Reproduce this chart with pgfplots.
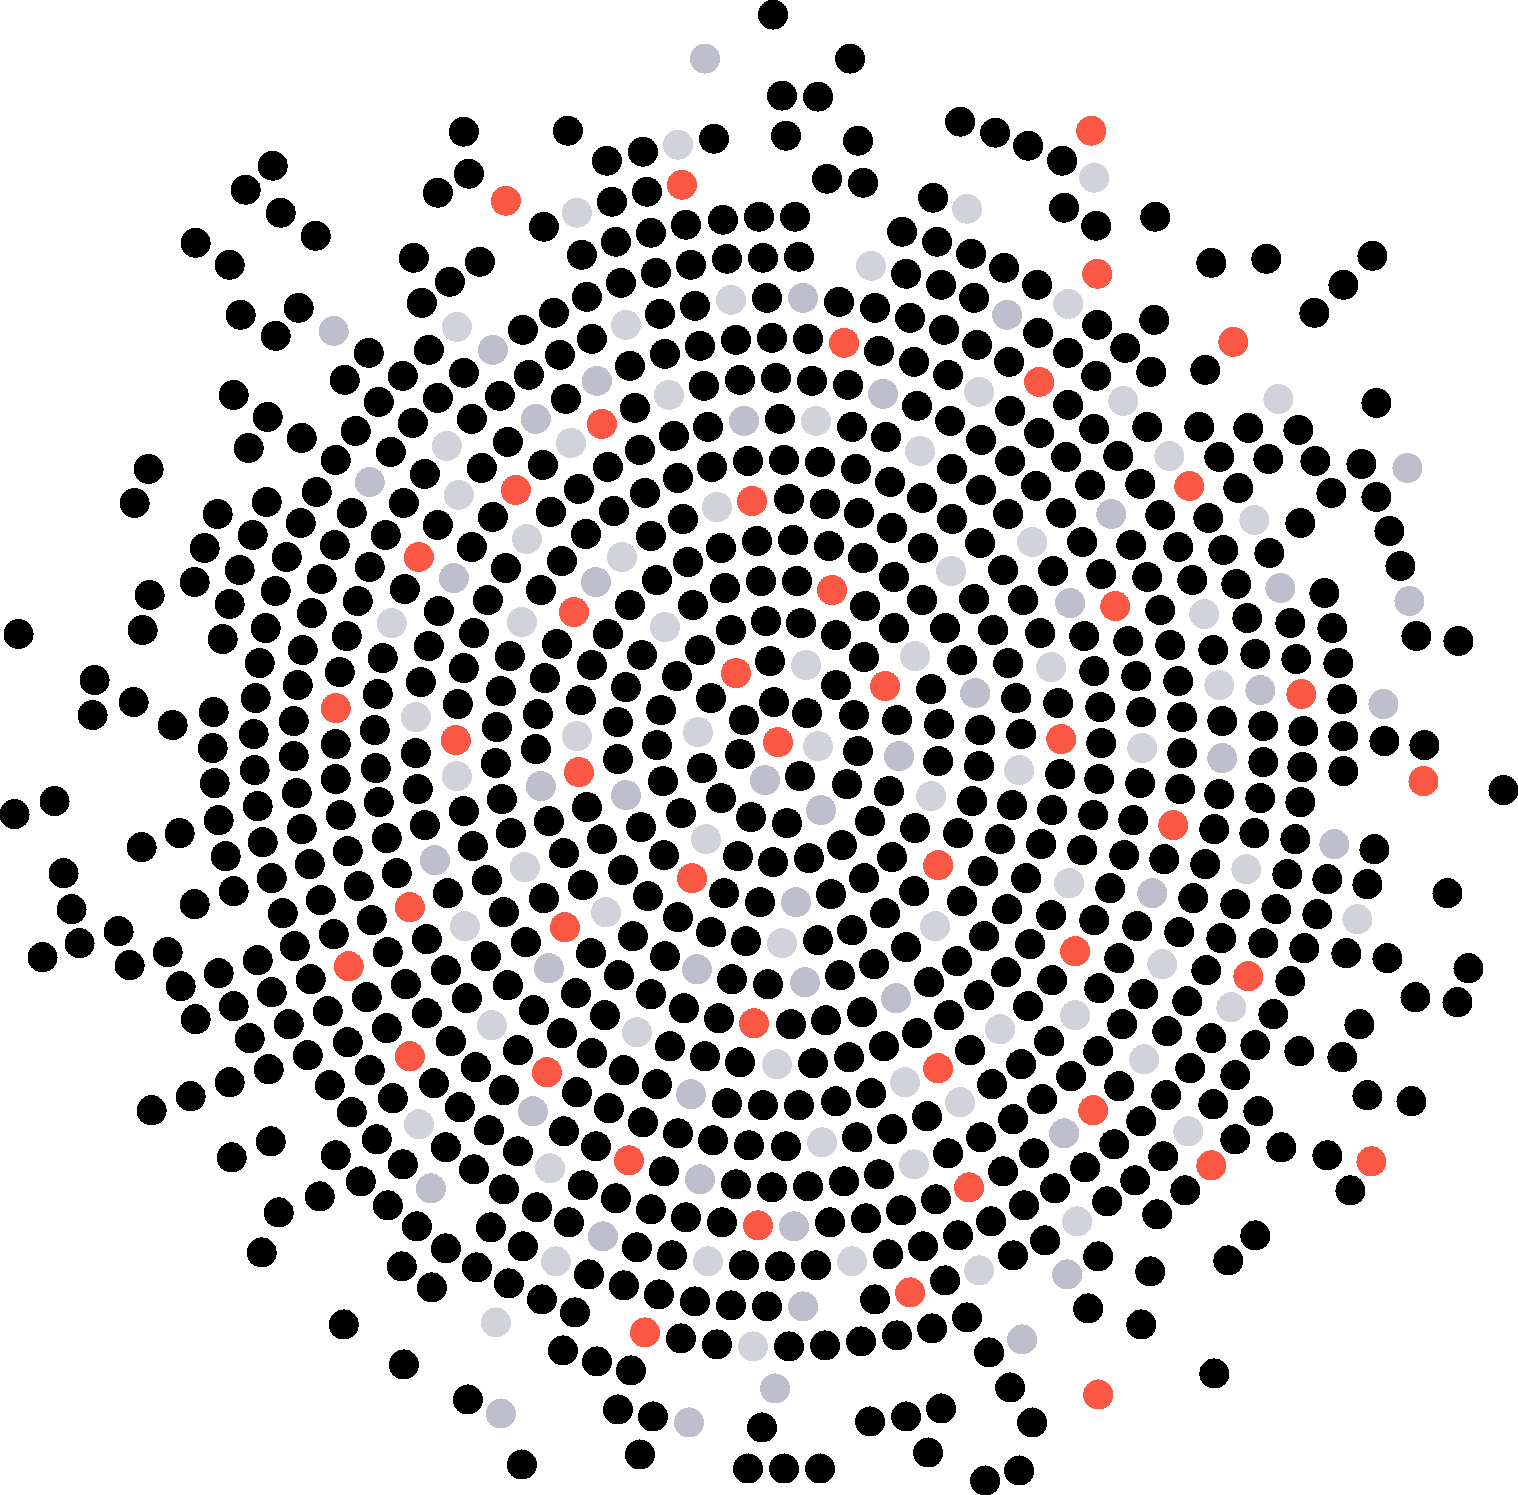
\documentclass[border=0pt]{standalone}
\usepackage{pgfplots}
\pgfplotsset{compat=1.18}
\definecolor{cred}{HTML}{FA5745}
\definecolor{cdark}{HTML}{BEBECC}
\definecolor{clight}{HTML}{D2D2DA}
\begin{document}
\begin{tikzpicture}
\begin{axis}[scale only axis,width=1518pt,height=1494pt,xmin=0,xmax=1519,ymin=0,ymax=1495,y dir=reverse,hide axis,clip=false]
\addplot[only marks,color=black,mark=*,mark size=14.5pt,mark options={solid,line width=0pt}] coordinates {
(680,812)(772,14)(849,58)(781,95)(817,96)(463,131)(567,130)(785,135)(713,138)(857,140)(959,121)(994,132)(1027,145)(1061,160)(606,160)(642,151)(272,165)(468,173)(826,178)(862,182)(245,189)(437,192)(646,191)(611,201)(932,197)(280,212)(1063,207)(1154,216)(543,226)(685,224)(722,219)(758,216)(794,216)(1095,225)(315,235)(650,232)(615,241)(901,231)(936,241)(195,242)(581,254)(690,264)(726,258)(762,257)(798,256)(970,253)(413,257)(479,261)(229,264)(1003,267)(1210,262)(1265,258)(1371,255)(655,272)(905,273)(449,281)(620,282)(940,284)(1036,284)(1342,284)(586,296)(694,305)(766,297)(838,301)(973,297)(421,302)(298,307)(553,312)(659,313)(874,307)(909,317)(1313,312)(240,314)(1153,319)(1096,324)(522,329)(943,329)(275,335)(591,338)(699,345)(735,339)(771,337)(807,338)(1037,332)(976,344)(428,349)(878,350)(1124,347)(368,352)(559,354)(664,353)(1067,352)(913,361)(1008,361)(629,365)(463,372)(402,375)(947,374)(1150,371)(1204,369)(528,374)(1095,375)(344,379)(739,379)(775,377)(811,380)(847,384)(703,385)(233,394)(437,397)(499,395)(565,398)(378,401)(1067,404)(916,405)(1375,402)(1009,410)(267,416)(634,407)(471,418)(412,422)(779,418)(707,426)(851,426)(949,420)(355,430)(1198,426)(1247,427)(1297,429)(1146,426)(1093,428)(885,436)(980,439)(1038,432)(301,437)(507,441)(673,435)(248,447)(639,449)(390,451)(1009,460)(1117,455)(1218,456)(1267,458)(1314,460)(1360,463)(335,459)(747,460)(783,459)(819,461)(855,468)(542,464)(607,466)(711,466)(1065,456)(148,468)(951,468)(424,473)(481,467)(677,477)(889,481)(1139,483)(1237,487)(1035,485)(316,491)(980,489)(1089,484)(1330,492)(1375,496)(578,488)(134,502)(644,492)(788,498)(824,503)(403,502)(266,501)(921,497)(351,512)(217,513)(550,511)(613,510)(858,512)(1207,517)(1060,512)(1159,514)(1007,513)(300,522)(492,516)(682,518)(951,518)(1299,522)(437,524)(891,527)(1388,530)(252,534)(385,534)(650,535)(585,533)(756,540)(792,539)(828,545)(334,544)(1081,541)(1130,544)(979,542)(1177,546)(204,547)(471,546)(720,547)(922,547)(1222,549)(286,556)(1268,552)(561,560)(687,561)(862,557)(1002,569)(1052,570)(1399,565)(369,566)(239,569)(505,567)(1100,573)(1146,576)(1191,579)(893,576)(760,580)(796,580)(724,587)(321,578)(656,579)(194,581)(1235,583)(404,588)(540,589)(275,590)(149,594)(1323,592)(487,599)(973,598)(921,599)(629,604)(692,604)(864,605)(1022,599)(229,603)(357,600)(438,610)(1159,609)(311,612)(765,620)(800,622)(1246,617)(1289,622)(730,629)(835,634)(142,629)(18,633)(265,627)(1331,627)(944,627)(992,629)(1039,632)(1415,635)(893,627)(607,633)(473,632)(346,635)(1083,635)(222,638)(1457,640)(1127,640)(556,643)(1169,644)(428,645)(302,649)(1212,649)(1254,653)(641,654)(699,649)(509,655)(382,657)(1295,658)(259,662)(863,656)(961,659)(1007,662)(769,660)(1337,662)(591,664)(463,667)(339,671)(1093,670)(1135,675)(1177,680)(676,675)(544,677)(94,679)(420,681)(297,684)(625,686)(835,684)(930,688)(500,690)(255,697)(377,693)(580,699)(710,697)(1015,697)(133,701)(1341,698)(773,701)(1057,702)(1099,706)(457,703)(660,709)(213,711)(1140,711)(806,712)(1181,716)(92,714)(537,713)(853,714)(743,719)(896,719)(1221,720)(293,720)(617,721)(172,724)(938,723)(496,726)(374,729)(979,729)(253,733)(1262,725)(1302,730)(1020,733)(1342,735)(335,743)(1383,740)(1100,742)(656,744)(1423,744)(212,747)(739,753)(857,750)(1181,752)(535,748)(293,755)(415,752)(617,758)(937,760)(978,765)(1262,761)(495,762)(254,769)(1301,766)(375,767)(1342,770)(701,767)(799,775)(1059,773)(1098,778)(335,778)(1139,782)(214,782)(662,780)(846,783)(1502,789)(417,788)(296,792)(1179,788)(1218,793)(888,790)(54,800)(720,797)(1259,797)(501,798)(971,800)(1299,801)(378,801)(586,806)(1011,804)(1051,809)(257,805)(14,813)(340,814)(463,810)(750,816)(1092,814)(218,819)(869,820)(786,822)(1132,819)(548,820)(424,824)(179,832)(301,828)(640,826)(914,827)(1213,828)(1253,832)(510,832)(957,832)(262,841)(999,838)(386,837)(601,838)(1294,838)(141,846)(472,845)(347,850)(1040,843)(841,844)(1081,849)(1373,848)(225,855)(737,855)(772,861)(808,857)(1123,854)(563,852)(663,854)(891,856)(1163,858)(309,863)(396,872)(1204,863)(622,869)(982,870)(63,872)(271,877)(1286,873)(1025,877)(486,879)(863,877)(358,885)(582,884)(1326,878)(1366,883)(233,890)(1109,887)(723,892)(647,895)(830,893)(913,890)(447,892)(320,899)(1446,892)(194,903)(543,897)(961,900)(1192,897)(1234,903)(71,908)(759,901)(282,912)(1006,908)(1275,908)(503,911)(1316,913)(677,916)(1050,914)(884,912)(371,919)(118,930)(1093,919)(1136,925)(333,933)(632,935)(710,931)(851,929)(1178,931)(525,941)(426,938)(745,940)(817,939)(79,942)(983,935)(1220,937)(1262,942)(294,945)(590,952)(1029,943)(905,946)(387,951)(1303,947)(167,951)(42,956)(664,955)(485,955)(1345,952)(1118,957)(257,959)(1386,957)(129,964)(956,960)(873,963)(445,969)(618,974)(1005,971)(1205,969)(218,972)(310,978)(731,978)(839,974)(1467,967)(1051,979)(507,984)(180,985)(767,983)(405,983)(928,981)(1289,980)(575,992)(271,991)(1098,987)(650,993)(1142,993)(366,996)(978,994)(466,997)(1186,1000)(233,1005)(1414,996)(1456,1001)(533,1009)(327,1010)(1027,1005)(683,1007)(861,1011)(195,1018)(426,1012)(604,1014)(948,1014)(825,1019)(718,1017)(1272,1013)(288,1023)(386,1027)(1121,1023)(790,1023)(1358,1023)(561,1032)(916,1032)(1166,1030)(249,1037)(347,1041)(450,1040)(1048,1040)(1210,1037)(669,1045)(517,1049)(883,1045)(307,1054)(591,1052)(969,1049)(704,1055)(1097,1050)(1254,1044)(1298,1050)(848,1056)(739,1061)(812,1062)(1341,1056)(268,1068)(475,1066)(369,1069)(1020,1063)(623,1069)(1189,1067)(433,1082)(229,1081)(329,1084)(1070,1075)(1234,1074)(656,1083)(991,1083)(503,1089)(576,1091)(1118,1085)(870,1092)(190,1095)(392,1097)(1366,1094)(1410,1100)(835,1100)(1165,1094)(726,1102)(762,1104)(798,1104)(1041,1098)(459,1106)(608,1107)(151,1109)(351,1111)(1212,1103)(1257,1110)(642,1121)(926,1115)(1012,1118)(1140,1120)(488,1129)(891,1128)(563,1130)(677,1132)(376,1138)(856,1136)(270,1140)(712,1139)(748,1144)(785,1145)(980,1136)(1234,1138)(445,1146)(1113,1143)(1280,1146)(595,1145)(335,1154)(517,1150)(947,1152)(1033,1152)(231,1156)(1326,1154)(402,1163)(1162,1155)(473,1168)(663,1170)(1084,1166)(843,1180)(1002,1170)(878,1173)(360,1180)(735,1183)(771,1186)(807,1185)(582,1184)(1134,1179)(503,1188)(1054,1187)(1184,1189)(1349,1189)(615,1197)(319,1195)(935,1198)(387,1204)(536,1206)(650,1208)(1106,1200)(900,1209)(1023,1204)(278,1211)(865,1217)(685,1216)(721,1221)(568,1221)(829,1221)(1156,1213)(990,1220)(416,1225)(490,1226)(1254,1234)(636,1246)(957,1234)(1044,1239)(445,1247)(522,1245)(671,1254)(922,1245)(261,1251)(887,1253)(1012,1254)(1097,1255)(1227,1259)(743,1264)(779,1265)(815,1264)(401,1265)(476,1266)(588,1273)(1149,1270)(944,1279)(508,1282)(623,1284)(431,1286)(658,1293)(874,1298)(541,1298)(694,1300)(730,1304)(766,1305)(1087,1307)(574,1311)(966,1316)(931,1327)(343,1323)(1140,1323)(896,1334)(860,1340)(680,1337)(824,1344)(716,1343)(788,1345)(988,1351)(562,1349)(596,1360)(403,1363)(630,1369)(1213,1372)(1009,1386)(467,1398)(617,1408)(940,1407)(905,1415)(652,1415)(869,1420)(1031,1421)(761,1426)(639,1453)(927,1451)(521,1463)(747,1467)(783,1467)(819,1467)(1018,1469)(984,1479)
};
\addplot[only marks,color=cred,mark=*,mark size=14.5pt,mark options={solid,line width=0pt}] coordinates {
(1090,130)(681,184)(505,200)(1096,273)(1232,341)(843,342)(1038,381)(601,423)(515,489)(1188,485)(751,500)(418,556)(831,589)(573,611)(1114,605)(735,672)(884,685)(1300,693)(335,707)(455,739)(777,741)(1060,738)(578,771)(1422,780)(1172,824)(937,864)(691,877)(409,906)(564,926)(1074,950)(348,965)(1247,975)(753,1022)(409,1055)(937,1067)(546,1071)(1092,1109)(628,1159)(1210,1164)(1370,1160)(968,1186)(757,1224)(909,1291)(644,1331)(1097,1393)
};
\addplot[only marks,color=cdark,mark=*,mark size=14.5pt,mark options={solid,line width=0pt}] coordinates {
(704,58)(802,297)(333,330)(1006,314)(492,349)(596,380)(882,393)(535,418)(743,420)(369,481)(1406,467)(1110,513)(453,577)(595,581)(1279,587)(1069,602)(1408,600)(974,692)(1259,689)(1382,703)(898,755)(1221,757)(764,779)(540,785)(625,794)(820,809)(434,859)(1333,843)(1151,892)(795,901)(548,967)(696,968)(804,981)(895,997)(690,1093)(532,1110)(1063,1132)(699,1178)(430,1187)(793,1225)(602,1235)(1066,1273)(802,1305)(1021,1338)(774,1387)(500,1412)(688,1421)
};
\addplot[only marks,color=clight,mark=*,mark size=14.5pt,mark options={solid,line width=0pt}] coordinates {
(677,144)(1093,177)(576,212)(966,208)(870,265)(730,299)(1067,303)(456,326)(625,324)(668,394)(978,391)(1122,400)(1277,398)(815,420)(570,442)(446,445)(919,450)(1168,455)(458,494)(716,506)(1253,519)(526,538)(1031,541)(621,556)(950,570)(1203,613)(391,622)(521,621)(664,626)(914,655)(805,664)(1050,666)(1218,684)(415,716)(576,735)(697,731)(817,745)(1141,747)(456,775)(1018,769)(930,795)(705,838)(524,866)(1245,868)(1068,882)(605,911)(1356,918)(464,925)(934,925)(781,942)(1161,963)(1230,1006)(1074,1014)(491,1024)(636,1031)(999,1028)(1143,1058)(776,1063)(904,1081)(959,1101)(418,1123)(1187,1130)(821,1141)(549,1167)(913,1163)(1076,1220)(555,1260)(707,1260)(851,1260)(978,1269)(495,1321)(752,1345)
};
\end{axis}
\end{tikzpicture}
\end{document}
